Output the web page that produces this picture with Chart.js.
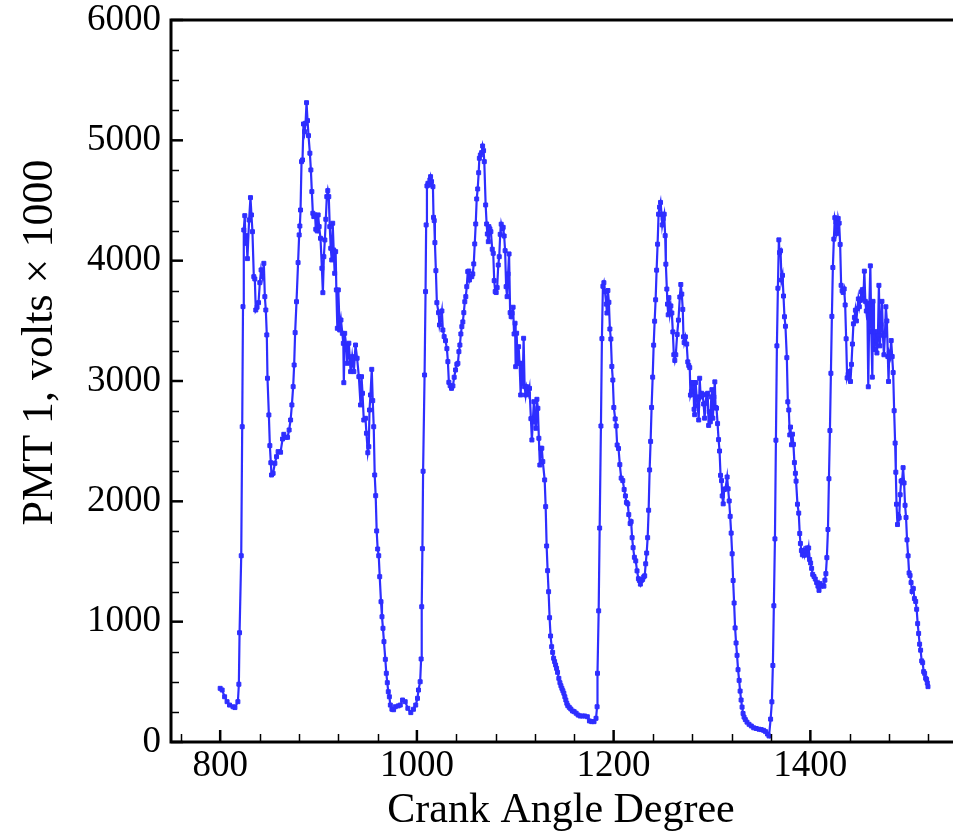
<!DOCTYPE html>
<html>
<head>
<meta charset="utf-8">
<script src="https://cdn.jsdelivr.net/npm/chart.js@4"></script>
<style>
  html, body { margin: 0; padding: 0; background: #fff; overflow: hidden; }
  #wrap { width: 956px; height: 837px; }
</style>
</head>
<body>
<div id="wrap"><canvas id="pmtChart" width="956" height="837"></canvas></div>
<script>
// crank angle (deg) and PMT 1 signal (volts x 1000)
const crankAngle = [
  800, 802, 804.5, 807, 809.5, 813, 815, 818, 819, 819.7,
  821.4, 822.4, 823.2, 824, 825, 825.7, 826.7, 827.7, 829.4, 830.8,
  831.8, 832.8, 834.2, 835.2, 836.2, 837.5, 839, 840.3, 841.6, 843,
  844.4, 845.4, 846.4, 847.4, 848.1, 849.5, 850.5, 851.5, 852.2, 853.8,
  855.6, 857.3, 858.9, 861.4, 863.4, 864.7, 866.8, 868.5, 870.1, 871.6,
  872.9, 874.2, 875.2, 876.2, 877.6, 879.2, 880.3, 881, 881.7, 882.7,
  883.7, 884.7, 885.8, 886.8, 887.8, 888.8, 889.8, 891.2, 892.2, 893.2,
  894.2, 895.2, 896.5, 897.2, 898.6, 899.6, 900.6, 902, 903.4, 904.4,
  905.4, 906.4, 907.4, 908.4, 909.4, 910.4, 911.4, 912.4, 913.4, 914.4,
  915.4, 916.4, 917.4, 918.1, 919.1, 920.1, 921.5, 922.8, 924.2, 925.2,
  925.7, 926.6, 928.3, 929.1, 930.8, 932.6, 934.2, 935.9, 937.6, 939.2,
  941, 942.7, 943.7, 944.7, 946, 947.7, 948.7, 950.1, 951.1, 951.8,
  952.8, 954.1, 955.1, 956.1, 957.1, 958.1, 959.1, 960.1, 961.2, 962.2,
  963.5, 964.5, 965.5, 966.5, 967.9, 968.9, 969.9, 970.9, 972, 973,
  974.6, 976.3, 978, 981, 983.1, 985.4, 988.1, 990.8, 993.8, 996.5,
  998.8, 1000.6, 1001.6, 1003.3, 1004.3, 1004.9, 1005.6, 1006.3, 1007.8, 1008.8,
  1009.4, 1010.2, 1011.2, 1012.2, 1013.2, 1013.9, 1014.9, 1016.3, 1016.9, 1017.6,
  1018.3, 1019.3, 1020.3, 1022, 1023, 1024, 1025.4, 1026.4, 1027.7, 1029.1,
  1030.5, 1031.5, 1032.5, 1033.8, 1035.2, 1036.6, 1037.9, 1039.3, 1040.6, 1041.7,
  1042.7, 1043.7, 1044.7, 1045.7, 1046.7, 1047.7, 1048.7, 1049.7, 1050.7, 1051.7,
  1052.7, 1053.4, 1054.4, 1055.8, 1056.8, 1057.8, 1058.8, 1059.8, 1060.8, 1061.8,
  1062.8, 1063.5, 1064.5, 1065.8, 1066.8, 1067.8, 1068.5, 1069.9, 1070.9, 1071.6,
  1072.6, 1073.2, 1074.2, 1075.2, 1076.6, 1077.6, 1078.6, 1079.6, 1080.6, 1081.6,
  1082.7, 1083.7, 1084.7, 1085.7, 1086.7, 1087.7, 1088.7, 1089.7, 1090.7, 1091.7,
  1092.7, 1093.7, 1094.8, 1095.8, 1096.8, 1097.8, 1098.8, 1099.8, 1100.4, 1101.4,
  1102.4, 1103.4, 1104.4, 1105.5, 1106.5, 1107.5, 1108.5, 1109.5, 1110.5, 1111.5,
  1112.5, 1113.5, 1114.5, 1115.9, 1116.9, 1117.9, 1118.9, 1120, 1121, 1122,
  1123, 1124, 1125, 1126, 1127, 1128, 1129.9, 1130.9, 1131.9, 1132.9,
  1133.9, 1134.9, 1135.9, 1137, 1138, 1139, 1140, 1141, 1142, 1143,
  1144.3, 1145.4, 1146.4, 1147.4, 1148.4, 1149.4, 1150.4, 1151.4, 1152.4, 1153.4,
  1154.9, 1156.5, 1158.2, 1159.9, 1161.9, 1163.9, 1166, 1168.3, 1170.6, 1173.3,
  1175.4, 1177.7, 1180.1, 1182.1, 1183.2, 1183.6, 1184.8, 1185.8, 1187.1, 1188.1,
  1189.1, 1190.1, 1191.2, 1192.5, 1193.2, 1194.2, 1195.2, 1196.2, 1197.2, 1198.2,
  1199.2, 1200.2, 1201.6, 1202.6, 1203.6, 1205, 1206.3, 1207.7, 1209.3, 1210.7,
  1212, 1213, 1214.4, 1215.4, 1216.8, 1217.8, 1218.8, 1219.8, 1221.1, 1222.5,
  1223.8, 1225.2, 1226.2, 1227.2, 1228.2, 1229.5, 1230.6, 1231.6, 1232.6, 1233.6,
  1234.6, 1235.6, 1236.6, 1237.6, 1238.6, 1239.7, 1240.7, 1241.7, 1242.7, 1243.7,
  1244.7, 1245.7, 1246.7, 1247.7, 1248.7, 1249.4, 1250.4, 1251.4, 1252.4, 1253.1,
  1254.1, 1254.8, 1255.5, 1256.2, 1257.2, 1258.2, 1259.2, 1260.2, 1261.2, 1262.2,
  1263.2, 1264.6, 1265.9, 1267.3, 1268.3, 1269.3, 1270.3, 1271, 1271.7, 1273,
  1274.3, 1275.4, 1276.4, 1277.4, 1278.1, 1279.1, 1280.1, 1281.1, 1281.8, 1282.4,
  1283.4, 1284.4, 1285.5, 1286.5, 1287.5, 1288.5, 1289.5, 1290.5, 1291.5, 1292.5,
  1293.5, 1294.5, 1295.6, 1296.6, 1297.2, 1298.3, 1299.3, 1299.9, 1300.9, 1301.9,
  1302.9, 1303.6, 1304.6, 1305.7, 1306.7, 1307.7, 1308.7, 1309.7, 1310.4, 1311.4,
  1312.4, 1313.7, 1315.4, 1316.4, 1317.5, 1318.5, 1319.5, 1320.5, 1321.5, 1322.5,
  1323.5, 1324.5, 1325.5, 1326.5, 1327.6, 1328.6, 1329.6, 1330.6, 1331.6, 1332.6,
  1333.9, 1335.6, 1337.7, 1340, 1342.4, 1345, 1347.8, 1350.1, 1352.5, 1354.5,
  1356.5, 1358, 1359.6, 1360.9, 1361.9, 1362.9, 1364, 1365, 1366, 1367,
  1368, 1368.7, 1369.7, 1370.7, 1371.7, 1372.7, 1373.7, 1374.7, 1376.1, 1377.1,
  1378.1, 1379.1, 1379.8, 1380.8, 1381.8, 1382.8, 1383.8, 1384.8, 1385.5, 1386.9,
  1388.2, 1389.2, 1389.9, 1390.9, 1391.9, 1392.9, 1393.9, 1394.9, 1396.3, 1397.3,
  1398.3, 1399.3, 1400.3, 1401.3, 1402.4, 1403.7, 1405, 1406.4, 1407.7, 1408.8,
  1409.8, 1411.1, 1412.5, 1413.8, 1414.8, 1415.8, 1416.8, 1417.9, 1418.9, 1419.9,
  1420.9, 1421.9, 1422.9, 1423.9, 1424.9, 1426, 1426.6, 1427.6, 1428.3, 1429.3,
  1430.3, 1431.3, 1432.3, 1433.3, 1434.4, 1435.4, 1436.4, 1437.4, 1438.4, 1439.4,
  1440.8, 1441.8, 1442.8, 1443.8, 1444.8, 1445.8, 1446.8, 1447.8, 1448.8, 1449.8,
  1450.9, 1451.9, 1452.9, 1453.9, 1454.9, 1455.9, 1456.9, 1457.9, 1458.9, 1460,
  1461, 1462, 1463, 1463.7, 1464.7, 1465.7, 1466.7, 1467.7, 1468.7, 1469.7,
  1470.7, 1471.8, 1472.8, 1473.8, 1474.8, 1475.8, 1476.8, 1477.8, 1478.8, 1479.5,
  1480.2, 1481.2, 1482.2, 1483.2, 1484.2, 1485.2, 1486.2, 1486.9, 1487.6, 1488.6,
  1489.6, 1490.3, 1491.3, 1492.3, 1493.3, 1494.3, 1495.3, 1496.3, 1497.3, 1498.3,
  1499.4, 1500.4, 1501.4, 1502.4, 1503.4, 1504.7, 1505.8, 1507.1, 1508.1, 1509.1,
  1510.1, 1511.1, 1512.1, 1513.2, 1514.2, 1515.2, 1516.2, 1517.2, 1518.2, 1518.9,
  1519.6
];
const pmtVolts = [
  446, 432, 376, 335, 307, 293, 286, 335, 480, 908,
  1548, 2620, 3618, 4255, 4374, 4144, 4208, 4017, 4338, 4524,
  4380, 4241, 3867, 3848, 3590, 3613, 3651, 3817, 3923, 3867,
  3978, 3701, 3590, 3383, 3023, 2718, 2463, 2321, 2219, 2233,
  2316, 2371, 2413, 2408, 2518, 2557, 2532, 2532, 2593, 2676,
  2801, 2953, 3133, 3402, 3659, 3984, 4214, 4288, 4421, 4823,
  4837, 5136, 5072, 5142, 5313, 5164, 5039, 4893, 4754, 4574,
  4394, 4366, 4380, 4261, 4247, 4380, 4283, 4186, 3937, 3734,
  4033, 4172, 4344, 4532, 4582, 4532, 4283, 4103, 4006, 4311,
  4089, 3895, 4075, 3757, 3438, 3757, 3424, 3507, 3396, 3313,
  2986, 3396, 3285, 3147, 3314, 3078, 3202, 3078, 3299, 3189,
  3036, 2801, 3036, 2898, 2676, 2690, 2566, 2404, 2454, 2759,
  2884, 3097, 2837, 2620, 2219, 2047, 1754, 1604, 1548, 1374,
  1166, 1041, 945, 834, 687, 571, 493, 418, 376, 307,
  272, 268, 293, 300, 307, 349, 335, 280, 244, 272,
  307, 363, 432, 501, 690, 1124, 1607, 2250, 3050, 3743,
  4297, 4621, 4643, 4629, 4671, 4698, 4657, 4615, 4360, 4333,
  4150, 3917, 3651, 3568, 3466, 3507, 3582, 3424, 3369, 3335,
  3269, 3161, 2989, 2961, 2939, 2959, 3031, 3092, 3139, 3147,
  3244, 3299, 3391, 3452, 3491, 3568, 3659, 3701, 3784, 3909,
  3914, 3839, 3867, 3867, 3890, 3973, 4139, 4305, 4513, 4596,
  4731, 4851, 4878, 4898, 4953, 4914, 4823, 4463, 4305, 4222,
  4158, 4283, 4264, 4241, 4095, 4061, 3834, 3743, 3735, 3776,
  3964, 4033, 4219, 4303, 4264, 4277, 4205, 4083, 3784, 3701,
  3890, 4056, 3568, 3535, 3563, 3613, 3391, 3480, 3119, 3397,
  3147, 3285, 3147, 2884, 3147, 2981, 3355, 2953, 2884, 2953,
  2925, 2892, 2939, 2687, 2510, 2676, 2828, 2662, 2607, 2848,
  2773, 2524, 2302, 2441, 2441, 2330, 2178, 1956, 1629, 1424,
  1249, 1033, 881, 792, 745, 696, 668, 640, 612, 579,
  529, 493, 468, 446, 426, 405, 376, 349, 322, 302,
  288, 274, 258, 252, 239, 224, 216, 216, 216, 210,
  175, 169, 169, 197, 293, 571, 1090, 1778, 2626, 3352,
  3787, 3817, 3743, 3639, 3565, 3752, 3654, 3432, 3349, 3121,
  3008, 2780, 2685, 2626, 2468, 2439, 2305, 2193, 2172, 2098,
  2045, 1991, 1979, 1890, 1816, 1831, 1698, 1615, 1535, 1505,
  1422, 1357, 1342, 1312, 1342, 1351, 1372, 1381, 1481, 1570,
  1698, 1926, 2261, 2498, 2780, 3032, 3298, 3497, 3675, 3921,
  4137, 4386, 4445, 4484, 4386, 4297, 4350, 4386, 4208, 3971,
  3764, 3639, 3550, 3693, 3565, 3624, 3565, 3408, 3218, 3171,
  3218, 3387, 3506, 3698, 3802, 3722, 3595, 3367, 3319, 3367,
  3307, 3159, 3129, 3111, 2883, 2913, 2987, 2987, 2765, 2720,
  2987, 2868, 2794, 2676, 3023, 2868, 2898, 2883, 2809, 2691,
  2815, 2889, 2898, 2631, 2744, 2661, 2868, 2928, 2691, 2868,
  2993, 2780, 2774, 2646, 2513, 2418, 2216, 2172, 2045, 1979,
  2098, 2104, 2202, 2104, 2003, 1875, 1736, 1564, 1342, 1155,
  948, 823, 720, 601, 512, 423, 349, 290, 237, 207,
  186, 165, 147, 133, 118, 112, 106, 103, 97, 86,
  66, 50, 190, 334, 636, 1132, 1688, 2508, 3292, 3771,
  4173, 4067, 4082, 3839, 3878, 3706, 3534, 3455, 3194, 2827,
  2759, 2552, 2617, 2470, 2558, 2473, 2322, 2233, 2168, 1976,
  1902, 1733, 1650, 1591, 1556, 1591, 1552, 1591, 1612, 1556,
  1612, 1517, 1487, 1443, 1393, 1375, 1354, 1325, 1295, 1260,
  1316, 1295, 1304, 1295, 1345, 1399, 1532, 1766, 2188, 2588,
  3064, 3537, 3943, 4179, 4357, 4321, 4224, 4253, 4351, 4312,
  4135, 3795, 3750, 3736, 3765, 3632, 3351, 3026, 3055, 3079,
  2996, 3138, 3307, 3475, 3528, 3588, 3499, 3602, 3682, 3617,
  3670, 3741, 3759, 3682, 3913, 3662, 3582, 3647, 2952, 3632,
  3957, 3410, 3032, 3662, 3262, 3410, 3336, 3233, 3381, 3795,
  3292, 3469, 3662, 3381, 3218, 3381, 3617, 3499, 3203, 2996,
  3233, 3203, 3336, 3203, 3070, 2753, 2484, 2242, 1976, 1807,
  1878, 1863, 2055, 2168, 2174, 2280, 2153, 1967, 1866, 1680,
  1547, 1405, 1384, 1325, 1251, 1275, 1192, 1168, 1103, 984,
  902, 813, 763, 674, 659, 585, 570, 530, 520, 490,
  460
];

const xMajorTicks = [800, 1000, 1200, 1400];
const yMajorTicks = [0, 1000, 2000, 3000, 4000, 5000, 6000];
const xMinorStep = 40;
const yMinorStep = 250;

const points = crankAngle.map((a, i) => ({ x: a, y: pmtVolts[i] }));
const serif = "'Liberation Serif', 'Times New Roman', serif";
const blue = 'rgb(46,46,255)';

// frame + inward tick marks, like the original plot
const frame = {
  id: 'frame',
  afterDraw(chart) {
    const { ctx, chartArea: a, scales } = chart;
    const x = scales.x, y = scales.y;
    ctx.save();
    ctx.strokeStyle = '#000';
    ctx.lineCap = 'butt';

    ctx.lineWidth = 1.5;
    for (let v = 760; v <= 1520; v += xMinorStep) {
      if (xMajorTicks.includes(v)) continue;
      const px = Math.round(x.getPixelForValue(v)) + 0.5;
      ctx.beginPath(); ctx.moveTo(px, a.bottom); ctx.lineTo(px, a.bottom - 8); ctx.stroke();
    }
    for (let v = yMinorStep; v < 6000; v += yMinorStep) {
      if (yMajorTicks.includes(v)) continue;
      const py = Math.round(y.getPixelForValue(v)) + 0.5;
      ctx.beginPath(); ctx.moveTo(a.left, py); ctx.lineTo(a.left + 8, py); ctx.stroke();
    }
    ctx.lineWidth = 2.5;
    xMajorTicks.forEach(v => {
      const px = x.getPixelForValue(v);
      ctx.beginPath(); ctx.moveTo(px, a.bottom); ctx.lineTo(px, a.bottom - 12); ctx.stroke();
    });
    yMajorTicks.forEach(v => {
      const py = y.getPixelForValue(v);
      ctx.beginPath(); ctx.moveTo(a.left, py); ctx.lineTo(a.left + 12, py); ctx.stroke();
    });

    ctx.lineWidth = 3;
    ctx.beginPath();
    ctx.moveTo(a.right + 2, a.top);
    ctx.lineTo(a.left, a.top);
    ctx.lineTo(a.left, a.bottom);
    ctx.lineTo(a.right + 2, a.bottom);
    ctx.stroke();
    ctx.restore();
  }
};

new Chart(document.getElementById('pmtChart'), {
  type: 'line',
  data: {
    datasets: [{
      label: 'PMT 1',
      data: points,
      borderColor: blue,
      backgroundColor: blue,
      borderWidth: 2.2,
      pointStyle: 'rect',
      pointRadius: 2.8,
      pointBorderWidth: 1,
      pointBorderColor: blue,
      pointBackgroundColor: blue,
      tension: 0,
      fill: false
    }]
  },
  options: {
    responsive: false,
    animation: false,
    devicePixelRatio: 1,
    layout: { padding: { top: 20, right: 0, bottom: 0, left: 0 } },
    plugins: { legend: { display: false }, tooltip: { enabled: false } },
    scales: {
      x: {
        type: 'linear',
        min: 750,
        max: 1543,
        grid: { display: false, drawTicks: false },
        border: { display: false },
        afterBuildTicks: s => { s.ticks = xMajorTicks.map(v => ({ value: v })); },
        afterFit: s => { s.height = 95; s.paddingLeft = 0; s.paddingRight = 0; },
        ticks: {
          color: '#000',
          padding: 6,
          maxRotation: 0,
          callback: v => String(v),
          font: { family: serif, size: 37, lineHeight: 1 }
        },
        title: {
          display: true,
          text: 'Crank Angle Degree',
          color: '#000',
          padding: { top: 0, bottom: 1 },
          font: { family: serif, size: 42, lineHeight: 1.2 }
        }
      },
      y: {
        min: 0,
        max: 6000,
        grid: { display: false, drawTicks: false },
        border: { display: false },
        afterBuildTicks: s => { s.ticks = yMajorTicks.map(v => ({ value: v })); },
        afterFit: s => { s.width = 171; s.paddingTop = 0; s.paddingBottom = 0; },
        ticks: {
          color: '#000',
          padding: 10,
          callback: v => String(v),
          font: { family: serif, size: 37, lineHeight: 1 }
        },
        title: {
          display: true,
          text: '\u00a0\u00a0\u00a0\u00a0\u00a0\u00a0\u00a0PMT 1, volts \u00d7 1000',
          color: '#000',
          padding: { top: 14, bottom: 0 },
          font: { family: serif, size: 44, lineHeight: 1.2 }
        }
      }
    }
  },
  plugins: [frame]
});
</script>
</body>
</html>
